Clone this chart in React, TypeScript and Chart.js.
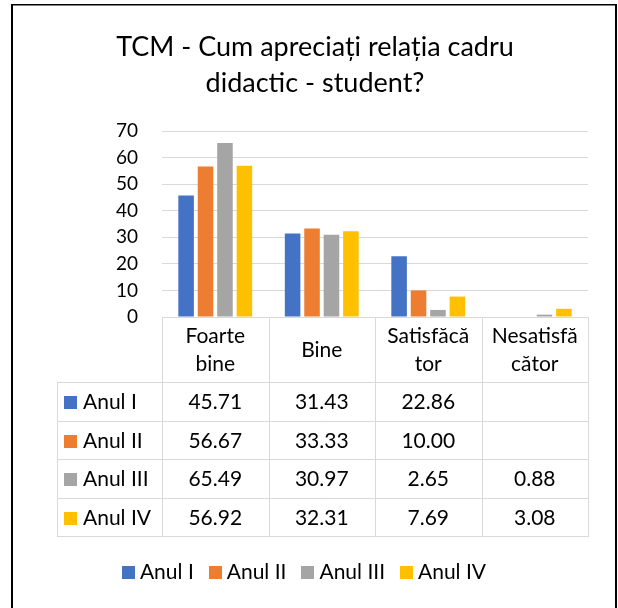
import React, { useEffect, useRef } from "react";
import { Chart, registerables } from "chart.js";

Chart.register(...registerables);

const FONT = "Lato, 'Open Sans', sans-serif";

const titleLines = ["TCM - Cum apreciați relația cadru", "didactic - student?"];
const categories = [["Foarte", "bine"], ["Bine"], ["Satisfăcă", "tor"], ["Nesatisfă", "cător"]];
const seriesNames = ["Anul I", "Anul II", "Anul III", "Anul IV"];
const seriesColors = ["#4472C4", "#ED7D31", "#A5A5A5", "#FFC000"];
const anulI = [45.71, 31.43, 22.86, null];
const anulII = [56.67, 33.33, 10.0, null];
const anulIII = [65.49, 30.97, 2.65, 0.88];
const anulIV = [56.92, 32.31, 7.69, 3.08];
const seriesValues = [anulI, anulII, anulIII, anulIV];
const yMin = 0;
const yMax = 70;
const yStep = 10;

const GRID = "#d9d9d9";
const TEXT = "#000000";

const tablePlugin = {
  id: "dataTable",
  afterDraw(chart: any) {
    const ctx = chart.ctx as CanvasRenderingContext2D;
    const x = chart.scales.x;
    const area = chart.chartArea;
    const n = categories.length;
    const cw = (area.right - area.left) / n;
    const top = Math.round(area.bottom);
    const headerH = 65;
    const rowH = 38.5;
    const tableLeft = 57;
    const rowTops = seriesNames.map((_, r) => Math.round(top + headerH + r * rowH));
    const bottom = Math.round(top + headerH + seriesNames.length * rowH);
    ctx.save();

    // title
    ctx.fillStyle = TEXT;
    ctx.font = `27px ${FONT}`;
    ctx.textAlign = "center";
    ctx.textBaseline = "middle";
    titleLines.forEach((t, k) => ctx.fillText(t, 315, 47.5 + k * 36));

    ctx.strokeStyle = GRID;
    ctx.lineWidth = 1;
    const hline = (x1: number, x2: number, y: number) => {
      ctx.beginPath();
      ctx.moveTo(x1, y + 0.5);
      ctx.lineTo(x2, y + 0.5);
      ctx.stroke();
    };
    const vline = (xx: number, y1: number, y2: number) => {
      ctx.beginPath();
      ctx.moveTo(Math.round(xx) + 0.5, y1);
      ctx.lineTo(Math.round(xx) + 0.5, y2);
      ctx.stroke();
    };
    hline(area.left, area.right, top);
    rowTops.forEach((y) => hline(tableLeft, area.right, y));
    hline(tableLeft, area.right, bottom);
    vline(tableLeft, rowTops[0], bottom + 1);
    for (let i = 0; i <= n; i++) {
      vline(area.left + i * cw, top, bottom + 1);
    }
    ctx.fillStyle = TEXT;
    ctx.font = `21px ${FONT}`;
    ctx.textAlign = "center";
    ctx.textBaseline = "middle";
    const lh = 28;
    categories.forEach((lines, i) => {
      const cx = x.getPixelForValue(i);
      const cy = top + headerH / 2 + 1;
      lines.forEach((t, k) => {
        ctx.fillText(t, cx, cy + (k - (lines.length - 1) / 2) * lh);
      });
    });
    seriesNames.forEach((name, r) => {
      const cy = rowTops[r] + rowH / 2 + 1;
      ctx.fillStyle = seriesColors[r];
      ctx.fillRect(64, Math.round(cy - 6.5), 13, 13);
      ctx.fillStyle = TEXT;
      ctx.textAlign = "left";
      ctx.fillText(name, 83, cy);
      ctx.textAlign = "center";
      seriesValues[r].forEach((v, i) => {
        if (v === null || v === undefined) return;
        ctx.fillText((v as number).toFixed(2), x.getPixelForValue(i), cy);
      });
    });

    // legend
    const sq = 13;
    const gapText = 5;
    const gapItem = 15;
    const widths = seriesNames.map((s) => ctx.measureText(s).width);
    const total = widths.reduce((a, w) => a + sq + gapText + w, 0) + gapItem * (seriesNames.length - 1);
    let lx = 304 - total / 2;
    const ly = 572;
    ctx.textAlign = "left";
    seriesNames.forEach((s, i) => {
      ctx.fillStyle = seriesColors[i];
      ctx.fillRect(Math.round(lx), Math.round(ly - sq / 2), sq, sq);
      ctx.fillStyle = TEXT;
      ctx.fillText(s, lx + sq + gapText, ly);
      lx += sq + gapText + widths[i] + gapItem;
    });

    // outer frame
    ctx.fillStyle = "#000";
    ctx.fillRect(11, 4, 2, 610);
    ctx.fillRect(11, 4, 606, 1.5);
    ctx.fillRect(615, 4, 2, 610);
    ctx.restore();
  },
};

export default function App() {
  const ref = useRef<HTMLCanvasElement | null>(null);
  useEffect(() => {
    if (!ref.current) return;
    const chart = new Chart(ref.current, {
      type: "bar",
      data: {
        labels: categories as any,
        datasets: seriesNames.map((name, i) => ({
          label: name,
          data: seriesValues[i] as any,
          backgroundColor: seriesColors[i],
          borderWidth: 0,
          categoryPercentage: 0.73,
          barPercentage: 0.8,
        })),
      },
      options: {
        animation: false,
        responsive: false,
        devicePixelRatio: 1,
        layout: { padding: { top: 131, left: 20, right: 30, bottom: 0 } },
        plugins: {
          title: { display: false },
          legend: { display: false },
          tooltip: { enabled: false },
        },
        scales: {
          x: {
            ticks: { display: false },
            grid: { display: false },
            border: { display: false },
            afterFit(scale: any) {
              scale.height = 291;
            },
          },
          y: {
            min: yMin,
            max: yMax,
            ticks: {
              stepSize: yStep,
              color: TEXT,
              font: { family: FONT, size: 19 },
              padding: 24,
            },
            grid: { color: GRID, lineWidth: 1, drawTicks: false, tickLength: 0 },
            border: { display: false },
            afterFit(scale: any) {
              scale.width = 142;
            },
          },
        },
      },
      plugins: [tablePlugin],
    });
    return () => chart.destroy();
  }, []);
  return (
    <div style={{ position: "absolute", left: 0, top: 0, width: 618, height: 608, background: "#fff" }}>
      <canvas ref={ref} width={618} height={608} style={{ width: 618, height: 608, display: "block" }} />
    </div>
  );
}
